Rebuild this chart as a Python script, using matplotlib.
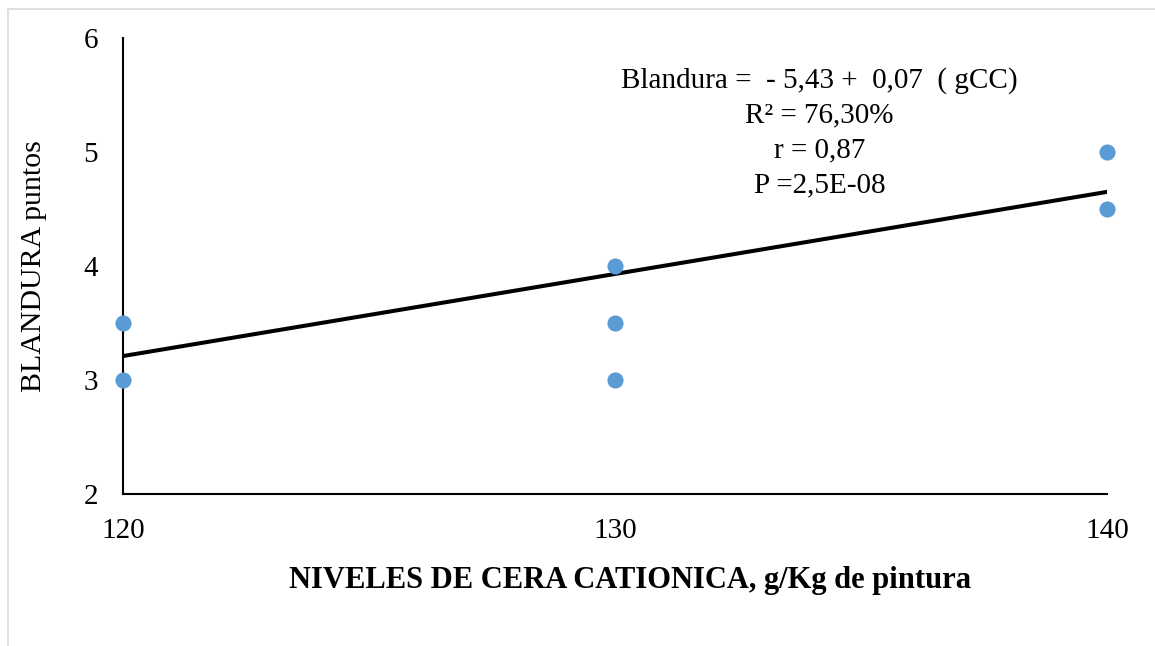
import matplotlib
matplotlib.use("Agg")
import matplotlib.pyplot as plt
from matplotlib.lines import Line2D

plt.rcParams['font.family'] = ['Liberation Serif', 'DejaVu Serif']

# wax level (g/kg paint) and softness score
nivel = [120, 120, 130, 130, 130, 140, 140]
blandura = [3.5, 3.0, 4.0, 3.5, 3.0, 5.0, 4.5]

# fitted regression
intercepto = -5.43
pendiente = 0.072
x_fit = [120, 140]
y_fit = [intercepto + pendiente * x for x in x_fit]

x_ticks = [120, 130, 140]
y_ticks = [2, 3, 4, 5, 6]

fig = plt.figure(figsize=(11.55, 6.46), dpi=100)
ax = fig.add_axes([0.1065, 0.2353, 0.8519, 0.7059])

ax.plot(x_fit, y_fit, color='black', linewidth=2.9, zorder=2)
ax.scatter(nivel, blandura, s=135, color='#5B9BD5', zorder=3,
           linewidths=0, clip_on=False)

ax.set_xlim(120, 140)
ax.set_ylim(2, 6)
ax.set_xticks(x_ticks)
ax.set_yticks(y_ticks)
ax.tick_params(axis='both', length=0, labelsize=21)
ax.tick_params(axis='x', pad=17)
ax.tick_params(axis='y', pad=18)

for side in ['top', 'right']:
    ax.spines[side].set_visible(False)
for side in ['left', 'bottom']:
    ax.spines[side].set_linewidth(1.5)
    ax.spines[side].set_color('black')
ax.spines['left'].set_zorder(1)

ax.set_xlabel('NIVELES DE CERA CATIONICA, g/Kg de pintura',
              fontsize=22, fontweight='bold', labelpad=16, x=0.515)
ax.set_ylabel('BLANDURA puntos', fontsize=21.5, labelpad=26)

texto = ('Blandura =  - 5,43 +  0,07  ( gCC)\n'
         'R² = 76,30%\n'
         'r = 0,87\n'
         'P =2,5E-08')
fig.text(0.7095, 1 - 67 / 646, texto, ha='center', va='top',
         fontsize=21, linespacing=1.44)

# light frame along top and left edges
fig.add_artist(Line2D([8 / 1155, 1], [1 - 9 / 646, 1 - 9 / 646],
                      color='#d9d9d9', linewidth=1.2, transform=fig.transFigure))
fig.add_artist(Line2D([8 / 1155, 8 / 1155], [0, 1 - 9 / 646],
                      color='#d9d9d9', linewidth=1.2, transform=fig.transFigure))

fig.savefig('out.png', dpi=100)
